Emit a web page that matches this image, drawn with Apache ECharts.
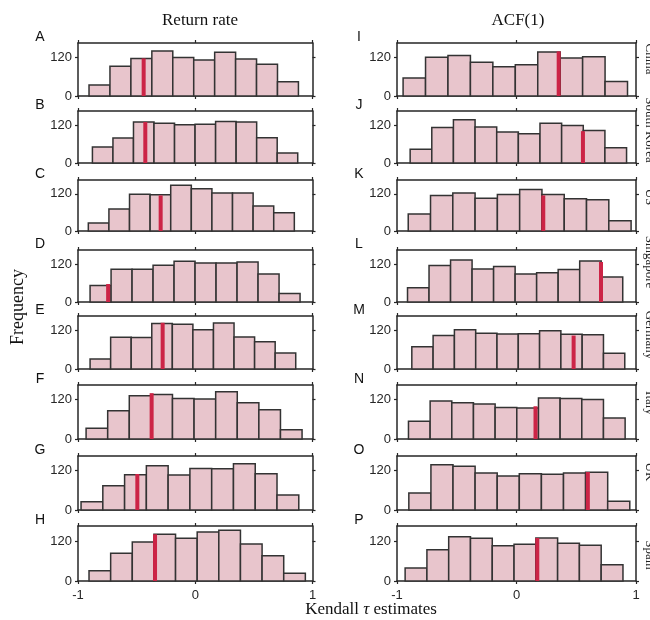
<!DOCTYPE html>
<html><head><meta charset="utf-8">
<script src="https://cdn.jsdelivr.net/npm/echarts@6/dist/echarts.min.js"></script>
<style>html,body{margin:0;padding:0;background:#fff}#c{width:650px;height:620px}</style>
</head><body><div id="c"></div>
<script>
// ---------- data ----------
const panelLetters = ['A','B','C','D','E','F','G','H','I','J','K','L','M','N','O','P'];
const countries = ['China','South Korea','US','Singapore','Germany','Italy','UK','Spain'];
const columnTitles = ['Return rate','ACF(1)'];
const xTicks = [-1, 0, 1];
const yTickValues = [0, 120];
// first and last bin edge of each histogram (10 equal bins)
const binLo = [-0.906,-0.877,-0.912,-0.897,-0.897,-0.931,-0.974,-0.906,
               -0.949,-0.890,-0.906,-0.912,-0.876,-0.904,-0.901,-0.932];
const binHi = [0.880,0.874,0.845,0.894,0.857,0.911,0.883,0.939,
               0.929,0.921,0.959,0.889,0.906,0.909,0.948,0.891];
const countsA = [34,93,117,140,120,112,136,115,99,44];
const countsB = [51,79,130,126,121,123,132,130,80,32];
const countsC = [26,71,119,117,148,137,123,123,81,59];
const countsD = [52,104,104,117,129,124,124,127,89,27];
const countsE = [31,99,98,142,139,122,143,100,85,50];
const countsF = [33,86,132,136,124,122,144,111,89,28];
const countsG = [25,74,108,135,107,127,126,141,111,46];
const countsH = [31,83,117,140,128,147,152,111,76,23];
const countsI = [56,121,126,105,91,97,137,118,122,45];
const countsJ = [44,113,137,114,98,93,126,119,103,48];
const countsK = [55,115,123,106,118,134,118,104,101,33];
const countsL = [45,116,133,105,113,89,93,103,130,79];
const countsM = [69,104,122,111,109,110,119,108,107,49];
const countsN = [54,116,111,107,96,95,125,124,121,64];
const countsO = [52,138,134,113,104,111,109,113,115,27];
const countsP = [39,94,133,128,106,110,129,113,107,49];
// observed estimate (red line) and its drawn height
const observed = [-0.44,-0.426,-0.295,-0.743,-0.278,-0.372,-0.494,-0.343,
                  0.353,0.556,0.224,0.707,0.478,0.159,0.597,0.174];
const observedH = [117,130,115,57,144,140,110,140,139,101,115,127,104,100,116,129];

const allCounts = [countsA,countsB,countsC,countsD,countsE,countsF,countsG,countsH,
                   countsI,countsJ,countsK,countsL,countsM,countsN,countsO,countsP];

// ---------- layout ----------
const colLeft = [78, 397];
const colWidth = [234.5, 239];
const rowTop = [43, 111, 180, 250, 316, 385, 456, 526];
const rowBot = [96, 163, 231, 302, 369, 439, 510, 581];
const countryY = [59, 130, 197, 262, 335, 403, 472, 555];
const Y_MAX = 165;

const BAR_FILL = '#e8c5cc';
const BAR_EDGE = '#333333';
const RED = '#cc2446';
const AX = '#262626';
const SANS = '"Liberation Sans", Arial, sans-serif';
const SERIF = '"Liberation Serif", "Times New Roman", serif';

const grids = [], xAxes = [], yAxes = [], series = [], graphics = [];

for (let p = 0; p < 16; p++) {
  const col = p < 8 ? 0 : 1;
  const row = p % 8;
  grids.push({left: colLeft[col], width: colWidth[col], top: rowTop[row], height: rowBot[row]-rowTop[row]});
  const lastRow = row === 7;
  const lineStyle = {color: AX, width: 1.5};
  xAxes.push({gridIndex: p, type: 'value', min: -1, max: 1, interval: 1, position: 'bottom',
    axisLine: {show: true, onZero: false, lineStyle},
    axisTick: {show: true, length: 3, lineStyle: {color: AX, width: 1.2}},
    axisLabel: {show: lastRow, color: AX, fontFamily: SANS, fontSize: 13, margin: 8,
      formatter: v => xTicks.includes(v) ? String(v) : ''},
    splitLine: {show: false}});
  xAxes.push({gridIndex: p, type: 'value', min: -1, max: 1, interval: 1, position: 'top',
    axisLine: {show: true, onZero: false, lineStyle},
    axisTick: {show: true, length: 3, lineStyle: {color: AX, width: 1.2}},
    axisLabel: {show: false}, splitLine: {show: false}});
  yAxes.push({gridIndex: p, type: 'value', min: 0, max: Y_MAX, position: 'left',
    axisLine: {show: true, onZero: false, lineStyle},
    axisTick: {show: true, length: 3, customValues: yTickValues, lineStyle: {color: AX, width: 1.2}},
    axisLabel: {show: true, customValues: yTickValues, color: AX, fontFamily: SANS, fontSize: 13, margin: 6},
    splitLine: {show: false}});
  yAxes.push({gridIndex: p, type: 'value', min: 0, max: Y_MAX, position: 'right',
    axisLine: {show: true, onZero: false, lineStyle},
    axisTick: {show: true, length: 3, customValues: yTickValues, lineStyle: {color: AX, width: 1.2}},
    axisLabel: {show: false}, splitLine: {show: false}});

  const counts = allCounts[p];
  const w = (binHi[p] - binLo[p]) / counts.length;
  const bins = counts.map((c, i) => [binLo[p] + i*w, binLo[p] + (i+1)*w, c]);
  series.push({type: 'custom', xAxisIndex: 2*p, yAxisIndex: 2*p, data: bins,
    encode: {x: [0, 1], y: 2}, silent: true,
    renderItem: (params, api) => {
      const a = api.coord([api.value(0), 0]);
      const b = api.coord([api.value(1), api.value(2)]);
      return {type: 'rect', shape: {x: a[0], y: b[1], width: b[0]-a[0], height: a[1]-b[1]},
        style: {fill: BAR_FILL, stroke: BAR_EDGE, lineWidth: 1.5}};
    }});
  series.push({type: 'custom', xAxisIndex: 2*p, yAxisIndex: 2*p, data: [[observed[p], observedH[p]]],
    encode: {x: 0, y: 1}, silent: true, z: 5,
    renderItem: (params, api) => {
      const a = api.coord([api.value(0), 0]);
      const b = api.coord([api.value(0), api.value(1)]);
      return {type: 'rect', shape: {x: a[0]-2, y: b[1], width: 4, height: a[1]-b[1]},
        style: {fill: RED}};
    }});

  graphics.push({type: 'text', x: col === 0 ? 40 : 359, y: rowTop[row] - 6,
    style: {text: panelLetters[p], font: '14px ' + SANS, fill: '#111', align: 'center', verticalAlign: 'middle'}});
}

countries.forEach((name, r) => {
  graphics.push({type: 'text', x: 643, y: countryY[r], rotation: -Math.PI/2,
    style: {text: name, font: '13px ' + SERIF, fill: '#222', align: 'center', verticalAlign: 'bottom'}});
});

columnTitles.forEach((t, c) => {
  graphics.push({type: 'text', x: c === 0 ? 200 : 518, y: 21,
    style: {text: t, font: '17px ' + SERIF, fill: '#111', align: 'center', verticalAlign: 'middle'}});
});

graphics.push({type: 'text', x: 18, y: 307, rotation: Math.PI/2,
  style: {text: 'Frequency', font: '18px ' + SERIF, fill: '#111', align: 'center', verticalAlign: 'middle'}});
graphics.push({type: 'text', x: 371, y: 610,
  style: {text: 'Kendall {i|τ} estimates', font: '17px ' + SERIF, fill: '#111', align: 'center', verticalAlign: 'middle',
    rich: {i: {fontStyle: 'italic', fontFamily: SERIF, fontSize: 17, fill: '#111'}}}});

const chart = echarts.init(document.getElementById('c'), null, {renderer: 'canvas'});
chart.setOption({
  animation: false,
  backgroundColor: '#fff',
  grid: grids, xAxis: xAxes, yAxis: yAxes, series: series, graphic: graphics
});
</script></body></html>
